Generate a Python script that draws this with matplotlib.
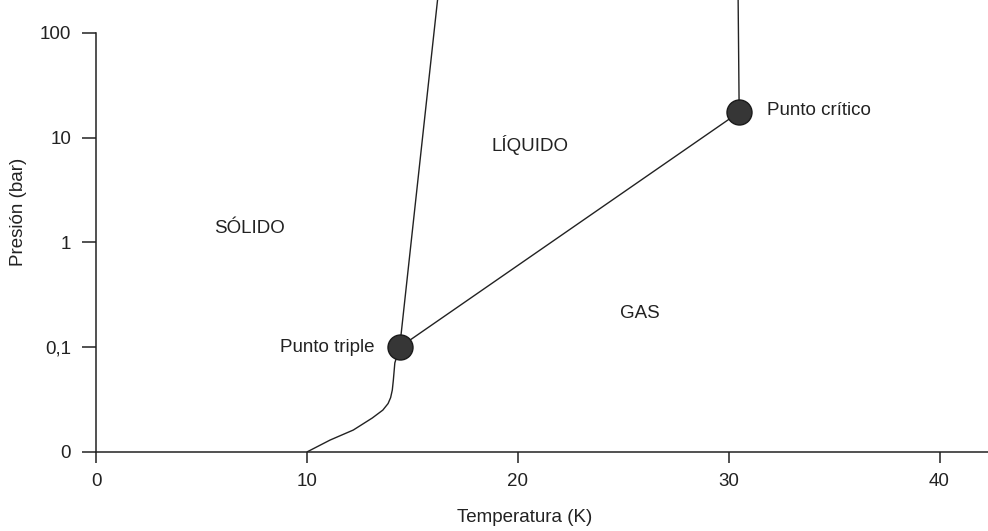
import matplotlib
matplotlib.use("Agg")
import matplotlib.pyplot as plt
from matplotlib.ticker import FixedLocator, NullLocator

plt.rcParams['font.family'] = ['Liberation Sans', 'DejaVu Sans']

# Phase boundaries (T in K, P in bar)
sub_T = [10.0, 11.1, 12.2, 13.1, 13.6, 13.85, 13.97, 14.05, 14.1, 14.17, 14.4]
sub_P = [0.01, 0.0130, 0.0162, 0.0211, 0.0251, 0.0290, 0.0330, 0.0390, 0.0486, 0.0708, 0.1]
melt_T = [14.4, 16.2]
melt_P = [0.1, 210]
vap_T = [14.4, 30.5]
vap_P = [0.1, 17.5]
super_T = [30.5, 30.45]
super_P = [17.5, 210]

points_T = [14.4, 30.5]
points_P = [0.1, 17.5]

ytick_vals = [0.01, 0.1, 1, 10, 100]
ytick_labels = ["0", "0,1", "1", "10", "100"]
xtick_vals = [0, 10, 20, 30, 40]

ink = "#222222"
fs = 13.5

fig = plt.figure(figsize=(9.88, 5.31), dpi=100)
ax = fig.add_axes([0.0972, 0.1488, 0.9028, 0.8512])

for T, P in [(sub_T, sub_P), (melt_T, melt_P), (vap_T, vap_P), (super_T, super_P)]:
    ax.plot(T, P, color=ink, lw=1.0, solid_capstyle='butt', solid_joinstyle='round')
ax.plot(points_T, points_P, ls='none', marker='o', ms=18, mfc='#363636', mec='#1a1a1a', mew=1.0)

ax.set_yscale('log')
ax.set_xlim(0, 42.3)
ax.set_ylim(0.01, 206)
ax.yaxis.set_major_locator(FixedLocator(ytick_vals))
ax.yaxis.set_minor_locator(NullLocator())
ax.set_yticklabels(ytick_labels)
ax.set_xticks(xtick_vals)
ax.set_xticklabels([str(v) for v in xtick_vals])

for s in ['top', 'right']:
    ax.spines[s].set_visible(False)
ax.spines['left'].set_bounds(0.01, 100)
for s in ['left', 'bottom']:
    ax.spines[s].set_linewidth(1.1)
    ax.spines[s].set_color(ink)
ax.tick_params(axis='y', length=10, width=1.1, color=ink, labelsize=fs, labelcolor=ink, pad=8)
ax.tick_params(axis='x', length=8, width=1.1, color=ink, labelsize=fs, labelcolor=ink, pad=7)

# axis titles placed where they sit in the original
fig.text(525 / 988, 1 - 518 / 531, "Temperatura (K)", fontsize=fs, color=ink, ha='center', va='center')
fig.text(18.5 / 988, 1 - 212 / 531, "Presión (bar)", fontsize=fs, color=ink, ha='center', va='center',
         rotation=90)

ax.text(7.3, 1.35, "SÓLIDO", fontsize=fs, color=ink, ha='center', va='center')
ax.text(20.6, 8.5, "LÍQUIDO", fontsize=fs, color=ink, ha='center', va='center')
ax.text(25.8, 0.212, "GAS", fontsize=fs, color=ink, ha='center', va='center')
ax.text(13.2, 0.1, "Punto triple", fontsize=fs, color=ink, ha='right', va='center')
ax.text(31.8, 18.0, "Punto crítico", fontsize=fs, color=ink, ha='left', va='center')

fig.savefig("out.png", dpi=100)
